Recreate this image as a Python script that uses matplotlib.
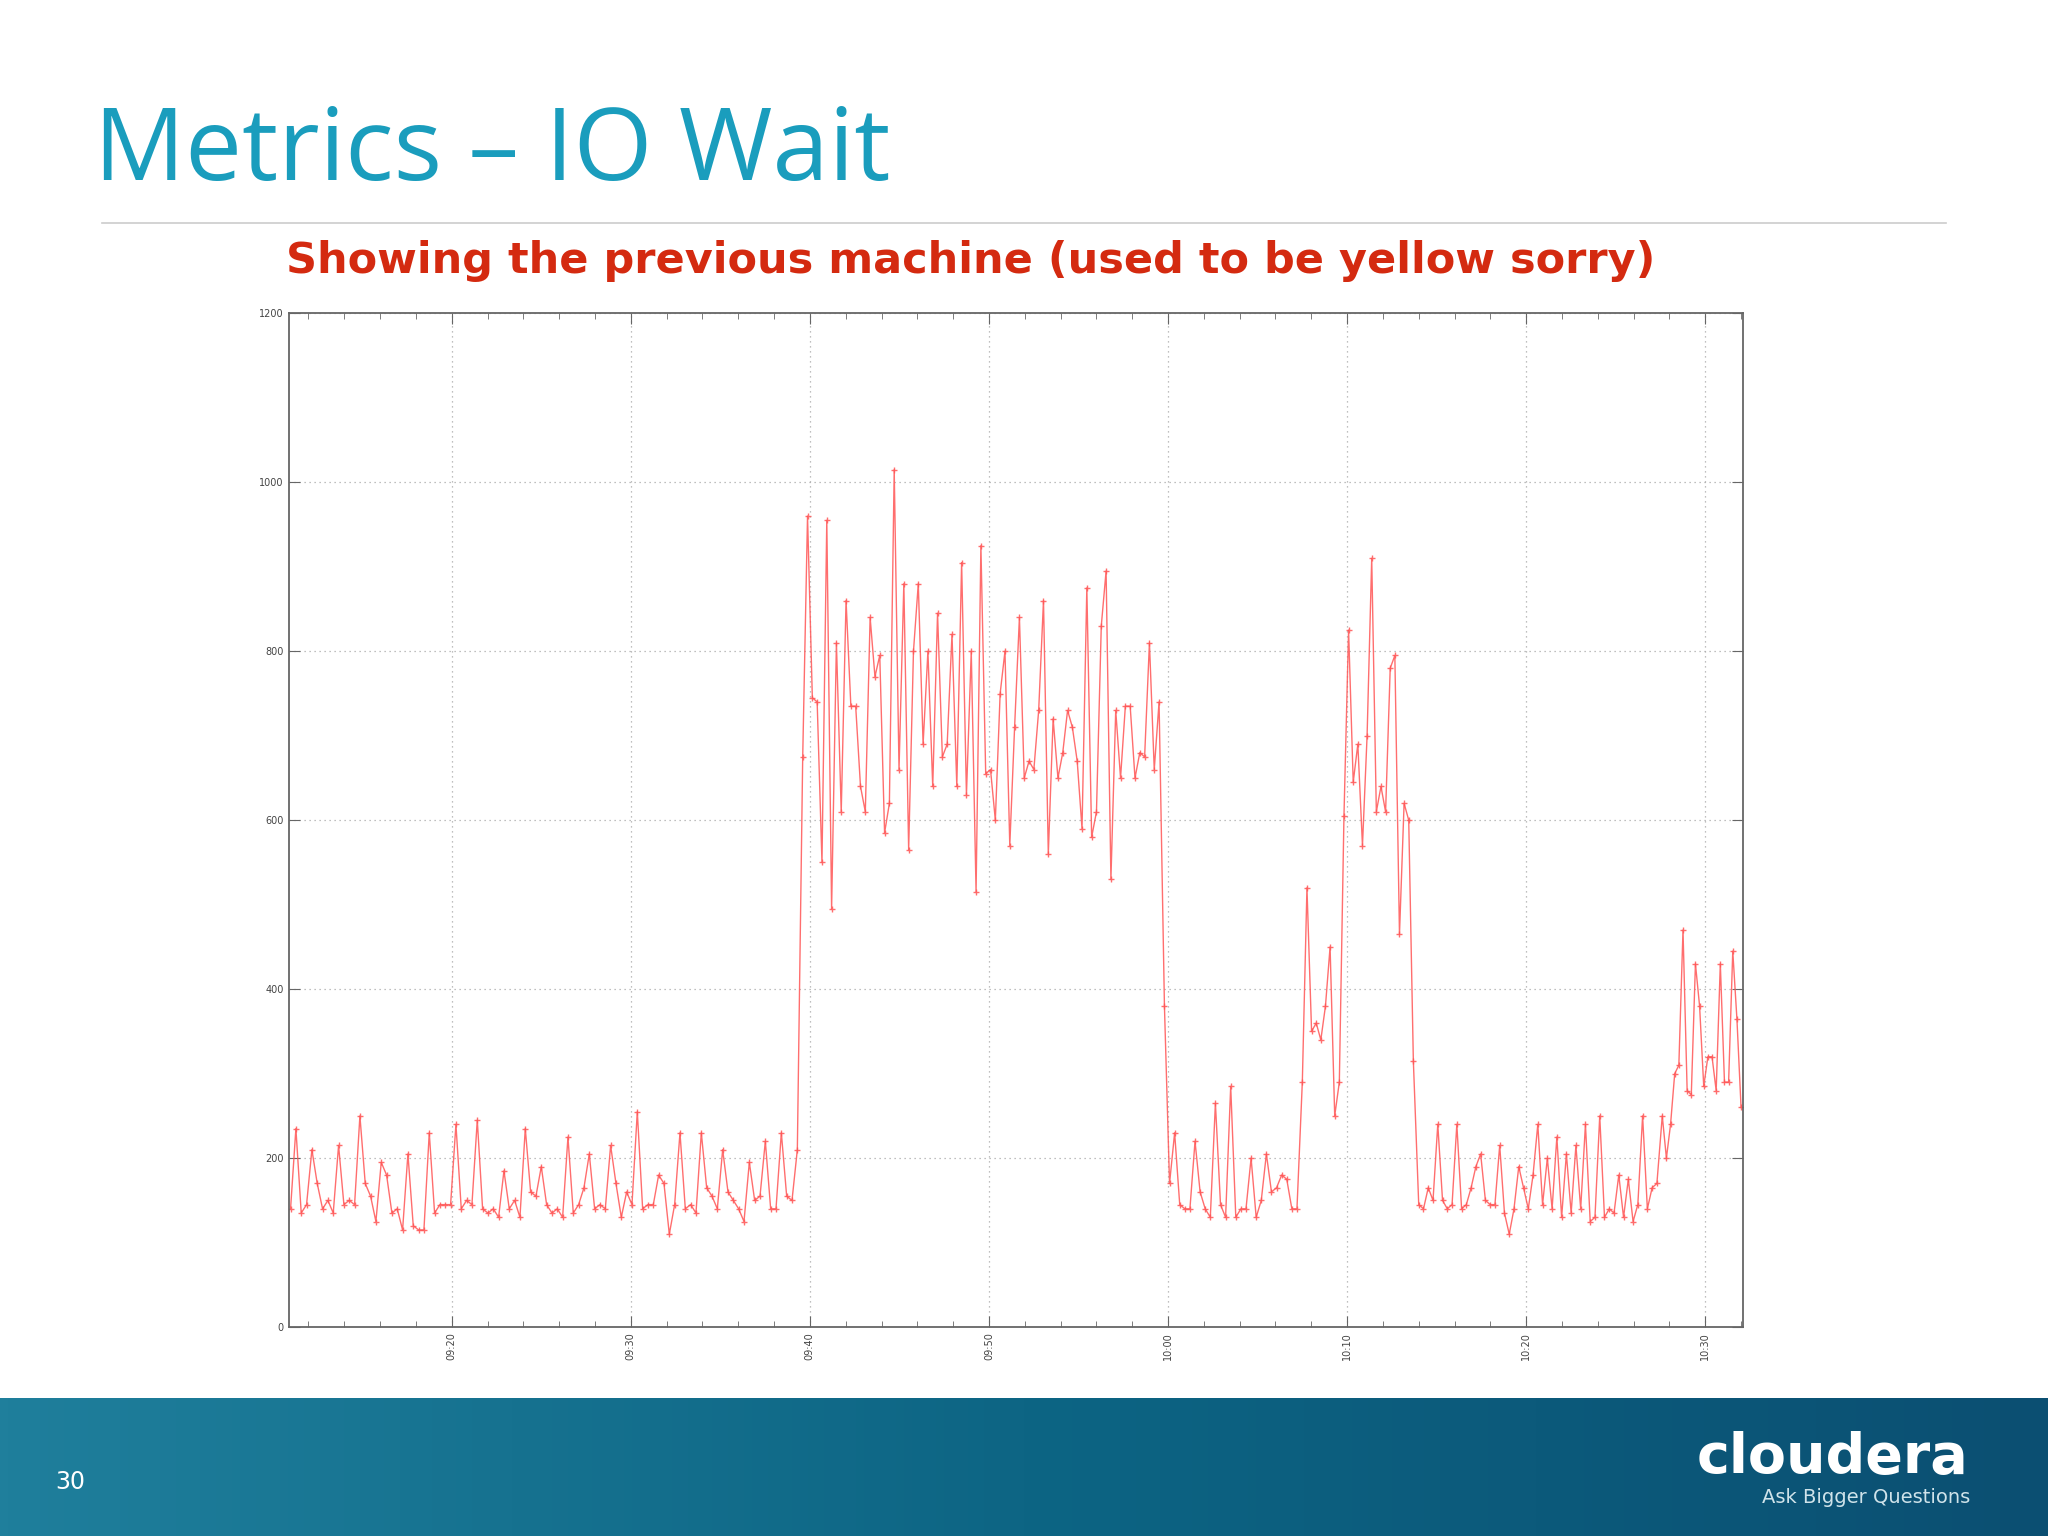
import numpy as np
import matplotlib
matplotlib.use("Agg")
import matplotlib.pyplot as plt
from matplotlib.ticker import MultipleLocator

# IO wait samples, grouped by phase; (start minute, end minute) after 09:00
seg_low1 = [140, 235, 135, 145, 210, 170, 140, 150, 135, 215, 145, 150, 145, 250, 170, 155, 125, 195,
            180, 135, 140, 115, 205, 120, 115, 115, 230, 135, 145, 145, 145, 240, 140, 150, 145, 245,
            140, 135, 140, 130, 185, 140, 150, 130, 235, 160, 155, 190, 145, 135, 140, 130, 225, 135,
            145, 165, 205, 140, 145, 140, 215, 170, 130, 160, 145, 255, 140, 145, 145, 180, 170, 110,
            145, 230, 140, 145, 135, 230, 165, 155, 140, 210, 160, 150, 140, 125, 195, 150, 155, 220,
            140, 140, 230, 155, 150, 210]
seg_high = [675, 960, 745, 740, 550, 955, 495, 810, 610, 860, 735, 735, 640, 610, 840, 770, 795, 585,
            620, 1015, 660, 880, 565, 800, 880, 690, 800, 640, 845, 675, 690, 820, 640, 905, 630, 800,
            515, 925, 655, 660, 600, 750, 800, 570, 710, 840, 650, 670, 660, 730, 860, 560, 720, 650,
            680, 730, 710, 670, 590, 875, 580, 610, 830, 895, 530, 730, 650, 735, 735, 650, 680, 675,
            810, 660, 740]
seg_low2 = [380, 170, 230, 145, 140, 140, 220, 160, 140, 130, 265, 145, 130, 285, 130, 140, 140, 200,
            130, 150, 205, 160, 165, 180, 175, 140, 140]
seg_bump = [290, 520, 350, 360, 340, 380, 450, 250, 290, 605, 825, 645, 690, 570, 700, 910, 610, 640,
            610, 780, 795, 465, 620, 600, 315]
seg_low3 = [145, 140, 165, 150, 240, 150, 140, 145, 240, 140, 145, 165, 190, 205, 150, 145, 145, 215,
            135, 110, 140, 190, 165, 140, 180, 240, 145, 200, 140, 225, 130, 205, 135, 215, 140, 240,
            125, 130, 250, 130, 140, 135, 180, 130, 175, 125, 145, 250, 140, 165, 170]
seg_rise = [250, 200, 240, 300, 310, 470, 280, 275, 430, 380, 285, 320, 320, 280, 430, 290, 290, 445,
            365, 260]
segments = [(seg_low1, 11.0, 39.3), (seg_high, 39.6, 59.5), (seg_low2, 59.8, 67.2),
            (seg_bump, 67.5, 73.7), (seg_low3, 74.0, 87.3), (seg_rise, 87.6, 92.0)]

tick_minutes = [20, 30, 40, 50, 60, 70, 80, 90]
tick_labels = ["09:20", "09:30", "09:40", "09:50", "10:00", "10:10", "10:20", "10:30"]

t = np.concatenate([np.linspace(a, b, len(v)) for v, a, b in segments])
y = np.concatenate([v for v, _, _ in segments])

fig = plt.figure(figsize=(20.48, 15.36), dpi=100)
fig.patch.set_facecolor("white")

fig.text(0.046, 0.90, "Metrics – IO Wait", color="#1a9dbd", fontsize=73, va="center",
         family="Open Sans")
fig.add_artist(plt.Line2D([0.05, 0.95], [0.855, 0.855], color="#cccccc", lw=1.2))
fig.text(0.474, 0.83, "Showing the previous machine (used to be yellow sorry)", color="#d42a10",
         fontsize=31, fontweight="bold", ha="center", va="center")

ax = fig.add_axes([0.141, 0.136, 0.71, 0.66])
ax.plot(t, y, color="#ff5555", lw=1.0, marker="+", ms=5, mew=1.0, alpha=0.85)
ax.set_xlim(10.9, 92.1)
ax.set_ylim(0, 1200)
ax.set_xticks(tick_minutes)
ax.set_xticklabels(tick_labels, rotation=90, fontsize=7, color="#444444")
ax.xaxis.set_minor_locator(MultipleLocator(2))
ax.set_yticks(range(0, 1201, 200))
ax.tick_params(axis="y", labelsize=7, labelcolor="#444444")
ax.tick_params(which="both", direction="in", top=True, right=True, color="#666666")
ax.tick_params(which="major", length=8)
ax.tick_params(which="minor", length=4)
ax.grid(True, which="major", ls=(0, (1, 3)), color="#aaaaaa", lw=0.9)
for s in ax.spines.values():
    s.set_color("#666666")
    s.set_linewidth(1.3)

# bottom banner
band = fig.add_axes([0, 0, 1, 0.09])
grad = np.linspace(0, 1, 256)[None, :]
band.imshow(grad, aspect="auto", cmap=matplotlib.colors.LinearSegmentedColormap.from_list(
    "b", ["#1f7f9c", "#0d6584", "#0b4f72"]), extent=[0, 1, 0, 1])
band.set_axis_off()
fig.text(0.027, 0.035, "30", color="white", fontsize=17, va="center")
fig.text(0.895, 0.051, "cloudera", color="white", fontsize=40, fontweight="bold", ha="center",
         va="center")
fig.text(0.911, 0.025, "Ask Bigger Questions", color="#cfe3ea", fontsize=14, ha="center",
         va="center")

fig.savefig("out.png", dpi=100)
